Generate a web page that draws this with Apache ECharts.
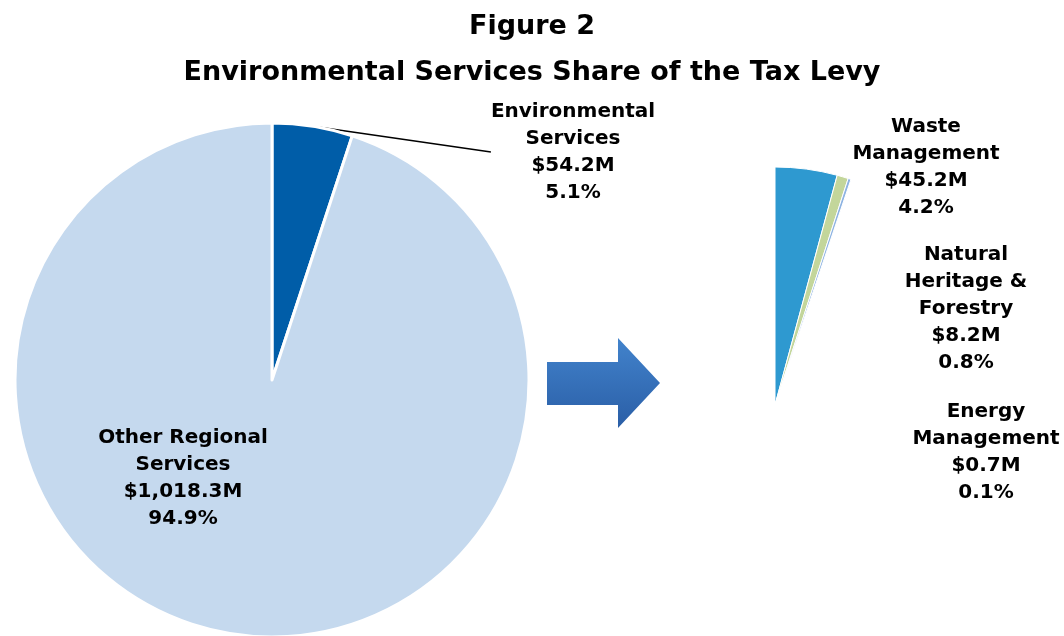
<!DOCTYPE html>
<html>
<head>
<meta charset="utf-8">
<script src="https://cdn.jsdelivr.net/npm/echarts@6/dist/echarts.min.js"></script>
<style>
html,body{margin:0;padding:0;background:#fff;}
#chart{width:1064px;height:636px;}
</style>
</head>
<body>
<div id="chart"></div>
<script>
// ---- data ----
const titleLines = ['Figure 2', 'Environmental Services Share of the Tax Levy'];
const mainNames = ['Environmental\nServices', 'Other Regional\nServices'];
const mainValues = [54.2, 1018.3];
const envNames = ['Waste\nManagement', 'Natural\nHeritage &\nForestry', 'Energy\nManagement', 'Other Regional Services'];
const envValues = [45.2, 8.2, 0.7, 1018.3];

const FONT = 'DejaVu Sans';
const total = mainValues.reduce((a, b) => a + b, 0);
const fmtVal = v => v.toLocaleString('en-US', {minimumFractionDigits: 1, maximumFractionDigits: 1});
const labelFmt = p => p.name + '\n$' + fmtVal(p.value) + 'M\n' + (p.value / total * 100).toFixed(1) + '%';

const mainColors = ['#005da8', '#c5d9ee'];
const envColors = ['#2e99d0', '#c3d69b', '#8db3e2', 'rgba(0,0,0,0)'];

const mainLabelPos = [[573, 152], [183, 478]];
const envLabelPos = [[926, 167], [966, 309], [986, 452]];

const chart = echarts.init(document.getElementById('chart'));
const baseLabel = {
  color: '#000', fontFamily: FONT, fontWeight: 'bold', fontSize: 20, lineHeight: 27,
  align: 'center', overflow: 'none', formatter: labelFmt
};

chart.setOption({
  animation: false,
  title: [
    {text: titleLines[0], left: 'center', top: 8,
     textStyle: {fontFamily: FONT, fontWeight: 'bold', fontSize: 27, color: '#000'}},
    {text: titleLines[1], left: 'center', top: 54,
     textStyle: {fontFamily: FONT, fontWeight: 'bold', fontSize: 27, color: '#000'}}
  ],
  graphic: [{
    type: 'polygon',
    shape: {points: [[547, 362], [618, 362], [618, 338], [660, 383], [618, 428], [618, 405], [547, 405]]},
    style: {
      fill: new echarts.graphic.LinearGradient(0, 0, 0, 1, [
        {offset: 0, color: '#4283cc'}, {offset: 1, color: '#2a5ea6'}
      ])
    }
  }],
  series: [
    {
      type: 'pie',
      center: [272, 380],
      radius: 257,
      startAngle: 90,
      clockwise: true,
      silent: true,
      avoidLabelOverlap: false,
      itemStyle: {borderColor: '#fff', borderWidth: 3},
      label: Object.assign({show: true, position: 'outside'}, baseLabel),
      labelLine: {show: true, length: 15, length2: 0, smooth: false, lineStyle: {color: '#000', width: 1.5}},
      labelLayout: p => ({
        x: mainLabelPos[p.dataIndex][0],
        y: mainLabelPos[p.dataIndex][1],
        align: 'center', verticalAlign: 'middle'
      }),
      data: mainValues.map((v, i) => ({
        name: mainNames[i], value: v,
        itemStyle: {color: mainColors[i]},
        label: i === 1 ? {position: 'inside'} : {},
        labelLine: {show: i === 0}
      }))
    },
    {
      type: 'pie',
      center: [775, 405],
      radius: 238,
      startAngle: 90,
      clockwise: true,
      silent: true,
      minAngle: 0.7,
      avoidLabelOverlap: false,
      itemStyle: {borderColor: '#fff', borderWidth: 1},
      label: Object.assign({show: true, position: 'outside'}, baseLabel),
      labelLine: {show: false},
      labelLayout: p => p.dataIndex < 3 ? ({
        x: envLabelPos[p.dataIndex][0],
        y: envLabelPos[p.dataIndex][1],
        align: 'center', verticalAlign: 'middle'
      }) : {},
      data: envValues.map((v, i) => ({
        name: envNames[i], value: v,
        itemStyle: i === 3 ? {color: 'rgba(0,0,0,0)', borderWidth: 0} : {color: envColors[i]},
        label: {show: i < 3}
      }))
    }
  ]
});
</script>
</body>
</html>
